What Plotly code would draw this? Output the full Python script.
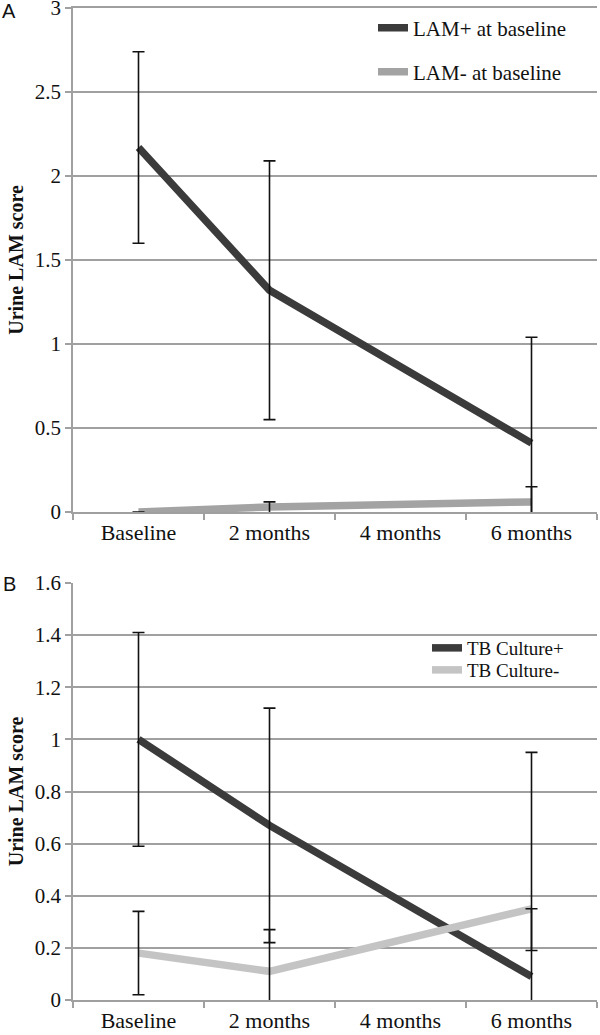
import plotly.graph_objects as go

categories = ["Baseline", "2 months", "4 months", "6 months"]

# Panel A
lam_pos = [2.17, 1.32, None, 0.41]
lam_pos_err = [0.57, 0.77, 0, 0.63]
lam_neg = [0.0, 0.03, None, 0.06]
lam_neg_err_plus = [0, 0.03, 0, 0.09]
lam_neg_err_minus = [0, 0.04, 0, 0.09]

# Panel B
cult_pos = [1.0, 0.67, None, 0.09]
cult_pos_err = [0.41, 0.45, 0, 0.86]
cult_neg = [0.18, 0.11, None, 0.35]
cult_neg_err_plus = [0.16, 0.16, 0, 0.0]
cult_neg_err_minus = [0.16, 0.16, 0, 0.16]

yticks_a = [0, 0.5, 1, 1.5, 2, 2.5, 3]
yticks_b = [0, 0.2, 0.4, 0.6, 0.8, 1, 1.2, 1.4, 1.6]

DARK = "#3b3b3b"
GRAY_A = "#a3a3a3"
GRAY_B = "#c4c4c4"
GRID = "#a0a0a0"
FONT = "Liberation Serif"
TXT = "#111111"

W, H = 600, 1035
L, R, T, B = 73, 3, 8, 35
PW = W - L - R
PH = H - T - B


def px_x(page_x):
    return (page_x - L) / PW


def px_y(page_y):
    return (T + PH - page_y) / PH


fig = go.Figure()


def err_trace(x, y, plus, minus, xa, ya):
    xs, ys, ps, ms = [], [], [], []
    for xi, yi, p, m in zip(x, y, plus, minus):
        if yi is None:
            continue
        xs.append(xi); ys.append(yi); ps.append(p); ms.append(m)
    return go.Scatter(
        x=xs, y=ys, mode="markers",
        marker=dict(size=1, color="rgba(0,0,0,0)"),
        error_y=dict(type="data", symmetric=False, array=ps, arrayminus=ms,
                     color=TXT, thickness=1.6, width=6),
        showlegend=False, hoverinfo="skip", xaxis=xa, yaxis=ya,
    )


fig.add_trace(go.Scatter(x=categories, y=lam_pos, mode="lines", connectgaps=True,
                         line=dict(color=DARK, width=7.5), name="LAM+ at baseline",
                         legend="legend", xaxis="x", yaxis="y"))
fig.add_trace(go.Scatter(x=categories, y=lam_neg, mode="lines", connectgaps=True,
                         line=dict(color=GRAY_A, width=7.5), name="LAM- at baseline",
                         legend="legend2", xaxis="x", yaxis="y"))
fig.add_trace(err_trace(categories, lam_pos, lam_pos_err, lam_pos_err, "x", "y"))
fig.add_trace(err_trace(categories, lam_neg, lam_neg_err_plus, lam_neg_err_minus, "x", "y"))

fig.add_trace(go.Scatter(x=categories, y=cult_pos, mode="lines", connectgaps=True,
                         line=dict(color=DARK, width=7.5), name="TB Culture+",
                         legend="legend3", xaxis="x2", yaxis="y2"))
fig.add_trace(go.Scatter(x=categories, y=cult_neg, mode="lines", connectgaps=True,
                         line=dict(color=GRAY_B, width=7.5), name="TB Culture-",
                         legend="legend4", xaxis="x2", yaxis="y2"))
fig.add_trace(err_trace(categories, cult_pos, cult_pos_err, cult_pos_err, "x2", "y2"))
fig.add_trace(err_trace(categories, cult_neg, cult_neg_err_plus, cult_neg_err_minus, "x2", "y2"))

xaxis_common = dict(
    type="category", categoryorder="array", categoryarray=categories,
    range=[-0.5, 3.5], showgrid=False, showline=True, linecolor=GRID, linewidth=1.5,
    ticks="outside", tickson="boundaries", ticklen=6, tickcolor=GRID, tickwidth=1.5,
    tickfont=dict(family=FONT, size=22, color=TXT), zeroline=False, automargin=False,
    ticklabeloverflow="allow",
)
yaxis_common = dict(
    showgrid=True, gridcolor=GRID, gridwidth=1.5, showline=True, linecolor=GRID,
    linewidth=1.5, ticks="outside", ticklen=6, tickcolor=GRID, tickwidth=1.5,
    tickfont=dict(family=FONT, size=21, color=TXT), zeroline=False, automargin=False,
    ticklabeloverflow="allow",
    title=dict(text="<b>Urine LAM score</b>", font=dict(family=FONT, size=20, color=TXT),
               standoff=6),
)


def leg(page_x_text, page_y, size):
    return dict(x=px_x(page_x_text - 40), y=px_y(page_y), xanchor="left", yanchor="middle",
                bgcolor="rgba(0,0,0,0)", font=dict(family=FONT, size=size, color=TXT))


fig.update_layout(
    width=W, height=H,
    margin=dict(l=L, r=R, t=T, b=B, autoexpand=False),
    paper_bgcolor="white", plot_bgcolor="white",
    # top x-axis mirrored line doubles as the top gridline (value 3)
    xaxis=dict(domain=[0, 1], anchor="y", mirror=True, **xaxis_common),
    yaxis=dict(domain=[px_y(512), 1.0], anchor="x", range=[0, 3],
               tickvals=yticks_a, ticktext=[str(v) for v in yticks_a], **yaxis_common),
    xaxis2=dict(domain=[0, 1], anchor="y2", **xaxis_common),
    yaxis2=dict(domain=[0, px_y(583)], anchor="x2", range=[0, 1.6], tickvals=yticks_b,
                ticktext=[str(v) for v in yticks_b], **yaxis_common),
    legend=leg(413, 28, 21),
    legend2=leg(413, 72, 21),
    legend3=leg(467, 648, 19),
    legend4=leg(467, 670, 19),
    showlegend=True,
)

for letter, ypx in (("A", 11), ("B", 584)):
    fig.add_annotation(text=letter, xref="paper", yref="paper",
                       x=px_x(9), y=px_y(ypx), xanchor="center", yanchor="middle",
                       showarrow=False, font=dict(family="Liberation Sans", size=20, color=TXT))

fig.write_html("out.html", config={"displayModeBar": False},
               post_script="document.body.style.margin='0';document.body.style.padding='0';")
